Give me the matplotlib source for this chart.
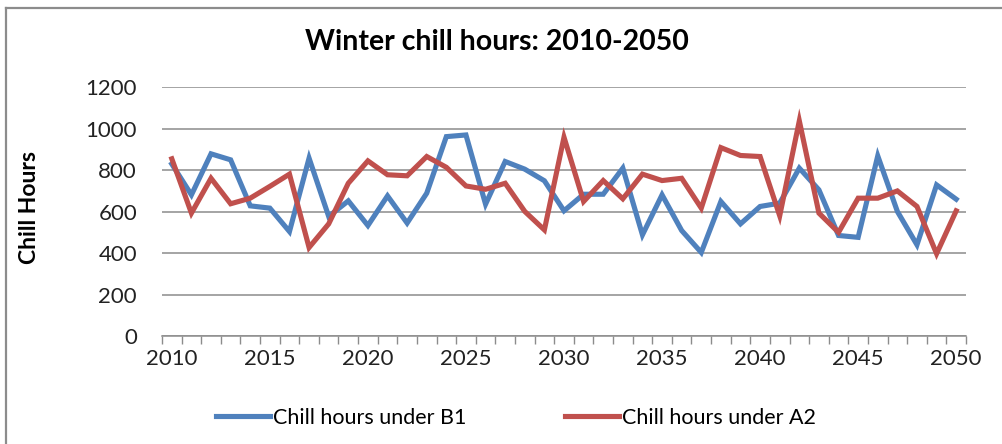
import matplotlib
matplotlib.use("Agg")
import matplotlib.pyplot as plt
from matplotlib.lines import Line2D
import numpy as np

years = list(range(2010, 2051))
b1 = [830, 681, 879, 850, 628, 617, 504, 858, 577, 652,
      533, 676, 545, 689, 962, 970, 636, 842, 805, 749,
      604, 684, 684, 810, 488, 681, 509, 403, 649, 541,
      625, 641, 810, 705, 485, 476, 869, 601, 440, 729,
      660]
a2 = [855, 593, 761, 638, 665, 722, 781, 427, 541, 737,
      845, 778, 773, 866, 814, 724, 708, 737, 601, 512,
      959, 649, 750, 662, 781, 750, 761, 617, 909, 871,
      866, 580, 1038, 593, 500, 665, 665, 700, 625, 397,
      604]
yticks = [0, 200, 400, 600, 800, 1000, 1200]
xlabels = [2010, 2015, 2020, 2025, 2030, 2035, 2040, 2045, 2050]

title = "Winter chill hours: 2010-2050"
ylabel = "Chill Hours"
names = ["Chill hours under B1", "Chill hours under A2"]
colors = ["#4F81BD", "#C0504D"]

plt.rcParams['font.family'] = ['Lato', 'DejaVu Sans']

W, H = 1002, 444
fig = plt.figure(figsize=(W / 100, H / 100), dpi=100)
ax = fig.add_axes([162 / W, 1 - 336 / H, (966 - 162) / W, (336 - 87.3) / H])

grid_c = "#8C8C8C"
ax.plot(years, b1, color=colors[0], lw=3.7, label=names[0], solid_joinstyle='miter')
ax.plot(years, a2, color=colors[1], lw=3.7, label=names[1], solid_joinstyle='miter')

ax.set_xlim(years[0] - 0.5, years[-1] + 0.5)
ax.set_ylim(yticks[0], yticks[-1])
ax.set_yticks(yticks)
ax.yaxis.grid(True, color=grid_c, lw=1.1)
ax.set_axisbelow(True)
ax.set_xticks(xlabels)
ax.set_xticks(np.arange(years[0] - 0.5, years[-1] + 1.0, 1.0), minor=True)
ax.tick_params(axis='x', which='major', length=0, labelsize=16, pad=9, colors='#222222')
ax.tick_params(axis='x', which='minor', length=6, width=1, color=grid_c, direction='out')
ax.tick_params(axis='y', length=0, labelsize=16, pad=18, colors='#222222')
for s in ['top', 'right', 'left']:
    ax.spines[s].set_visible(False)
ax.spines['bottom'].set_color(grid_c)
ax.spines['bottom'].set_linewidth(1.1)

fig.text(497 / W, 1 - 42 / H, title, ha='center', va='center', fontsize=20.5, fontweight='bold')
fig.text(30 / W, 1 - 208 / H, ylabel, ha='center', va='center', rotation=90,
         fontsize=16.5, fontweight='bold')

fig.legend(loc='center', bbox_to_anchor=(516 / W, 1 - 418 / H), ncol=2, frameon=False,
           fontsize=15.5, handlelength=2.5, handletextpad=0.15, columnspacing=4.6)

fig.add_artist(Line2D([6 / W, 1], [1 - 8.3 / H, 1 - 8.3 / H], transform=fig.transFigure,
                      color=grid_c, lw=1.6))
fig.add_artist(Line2D([6 / W, 6 / W], [0, 1 - 8.3 / H], transform=fig.transFigure,
                      color=grid_c, lw=1.6))

fig.savefig("out.png", dpi=100, facecolor='white')
